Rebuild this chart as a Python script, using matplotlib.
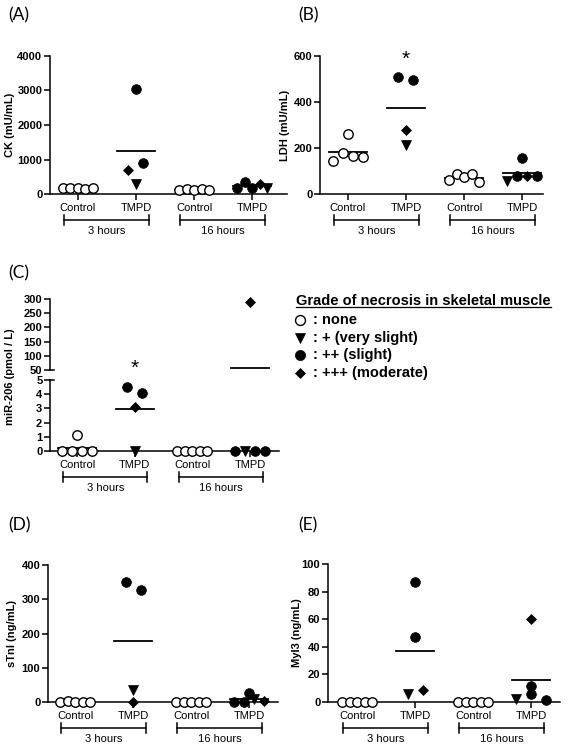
import matplotlib
matplotlib.use("Agg")
import matplotlib.pyplot as plt
import numpy as np
from matplotlib.lines import Line2D

plt.rcParams["font.family"] = ["Liberation Sans", "DejaVu Sans"]

W, H = 572, 752

group_names = ["Control", "TMPD", "Control", "TMPD"]
period_names = ["3 hours", "16 hours"]
grade_names = ["none", "+ (very slight)", "++ (slight)", "+++ (moderate)"]
legend_title = "Grade of necrosis in skeletal muscle"

# necrosis grade per animal: 0 none, 1 +, 2 ++, 3 +++
# (A) CK (mU/mL)
ck = [[160, 170, 165, 150, 160], [3050, 700, 300, 900],
      [120, 140, 130, 135, 125], [170, 350, 180, 280, 180]]
ck_grade = [[0, 0, 0, 0, 0], [2, 3, 1, 2], [0, 0, 0, 0, 0], [2, 2, 2, 3, 1]]

# (B) LDH (mU/mL)
ldh = [[145, 260, 180, 165, 162], [508, 495, 280, 215],
       [60, 88, 72, 85, 52], [58, 156, 80, 80, 80]]
ldh_grade = [[0, 0, 0, 0, 0], [2, 2, 3, 1], [0, 0, 0, 0, 0], [1, 2, 2, 3, 2]]

# (C) miR-206 (pmol / L)
mir = [[1.1, 0, 0, 0, 0], [4.5, 4.1, 3.1, 0],
       [0, 0, 0, 0, 0], [290, 0, 0, 0, 0]]
mir_grade = [[0, 0, 0, 0, 0], [2, 2, 3, 1], [0, 0, 0, 0, 0], [3, 2, 1, 2, 2]]

# (D) sTnI (ng/mL)
stni = [[0, 3, 1, 0, 0], [350, 328, 35, 0],
        [0, 0, 0, 0, 0], [0, 27, 1, 8, 2]]
stni_grade = [[0, 0, 0, 0, 0], [2, 2, 1, 3], [0, 0, 0, 0, 0], [2, 2, 2, 1, 3]]

# (E) Myl3 (ng/mL)
myl3 = [[0, 0, 0, 0, 0], [87, 47, 6, 8.5],
        [0, 0, 0, 0, 0], [60, 2, 5.5, 1.5, 11.5]]
myl3_grade = [[0, 0, 0, 0, 0], [2, 2, 1, 3], [0, 0, 0, 0, 0], [3, 1, 2, 2, 2]]

STYLE = {
    0: dict(marker="o", mfc="white", mec="black", ms=6.8, mew=1.0),
    1: dict(marker="v", mfc="black", mec="black", ms=7.2, mew=0.5),
    2: dict(marker="o", mfc="black", mec="black", ms=7.0, mew=0.5),
    3: dict(marker="D", mfc="black", mec="black", ms=5.2, mew=0.5),
}

fig = plt.figure(figsize=(W / 100, H / 100), dpi=100)


def make_axes(left, top, right, bottom):
    ax = fig.add_axes([left / W, 1 - bottom / H, (right - left) / W, (bottom - top) / H])
    for s in ("top", "right"):
        ax.spines[s].set_visible(False)
    for s in ("left", "bottom"):
        ax.spines[s].set_linewidth(1.1)
    ax.tick_params(axis="y", direction="out", length=4, width=1.1, pad=1.5, labelsize=8)
    ax.tick_params(axis="x", direction="out", length=4, width=1.1, pad=2.5, labelsize=8)
    return ax


def bold_yticks(ax):
    for lab in ax.get_yticklabels():
        lab.set_fontweight("bold")


def swarm(ax, vals, near=9.0, sp_max=15.0, width_max=30.0):
    # group points that sit close together vertically and spread each group sideways
    ys = ax.transData.transform(np.column_stack([np.zeros(len(vals)), vals]))[:, 1]
    unit = ax.transData.transform([(1, 0)])[0, 0] - ax.transData.transform([(0, 0)])[0, 0]
    order = np.argsort(ys, kind="stable")
    bins, cur, start = [], [], None
    for i in order:
        if cur and ys[i] - start > near:
            bins.append(cur)
            cur = []
        if not cur:
            start = ys[i]
        cur.append(i)
    bins.append(cur)
    offs = np.zeros(len(vals))
    for b in bins:
        b = sorted(b)
        n = len(b)
        if n == 1:
            continue
        sp = min(sp_max, width_max / (n - 1))
        for j, i in enumerate(b):
            offs[i] = (j - (n - 1) / 2) * sp
    return offs / unit


def draw_points(ax, xc, vals, grades):
    offs = swarm(ax, vals)
    for o, v, g in zip(offs, vals, grades):
        ax.plot([xc + o], [v], linestyle="none", clip_on=False, zorder=4, **STYLE[g])


def mean_line(ax, xc, m):
    ax.plot([xc - 0.33, xc + 0.33], [m, m], color="black", lw=1.3, zorder=3, clip_on=False)


def x_axis(ax, hpx):
    ax.set_xticks(range(4))
    ax.set_xticklabels(group_names)
    tr = ax.get_xaxis_transform()
    yb, cap, yt = -26 / hpx, 5 / hpx, -37 / hpx
    for i, name in enumerate(period_names):
        x0, x1 = 2 * i - 0.24, 2 * i + 1.22
        ax.plot([x0, x1], [yb, yb], color="black", lw=1.1, transform=tr, clip_on=False)
        for xx in (x0, x1):
            ax.plot([xx, xx], [yb - cap, yb + cap], color="black", lw=1.1,
                    transform=tr, clip_on=False)
        ax.text((x0 + x1) / 2, yt, name, transform=tr, ha="center", va="center", fontsize=8)


def panel(box, xlim, ylim, yticks, vals, grades, ylabel, label_dist):
    ax = make_axes(*box)
    ax.set_xlim(*xlim)
    ax.set_ylim(*ylim)
    ax.set_yticks(yticks)
    bold_yticks(ax)
    hpx = box[3] - box[1]
    wpx = box[2] - box[0]
    x_axis(ax, hpx)
    for i in range(4):
        mean_line(ax, i, np.mean(vals[i]))
        draw_points(ax, i, vals[i], grades[i])
    ax.text(-label_dist / wpx, 0.5, ylabel, rotation=90, transform=ax.transAxes,
            ha="center", va="center", fontsize=8, fontweight="bold")
    return ax


def panel_letter(x, y, s):
    fig.text(x / W, 1 - y / H, s, ha="left", va="center", fontsize=12.5, family="Lato")


# (A)
axA = panel((50, 56, 287, 194), (-0.48, 3.6), (0, 4000), np.arange(0, 4001, 1000),
            ck, ck_grade, "CK (mU/mL)", 40)
panel_letter(8, 15, "(A)")

# (B)
axB = panel((320, 56, 543, 194), (-0.48, 3.36), (0, 600), np.arange(0, 601, 200),
            ldh, ldh_grade, "LDH (mU/mL)", 35)
axB.text(1, 561, "*", ha="center", va="baseline", fontsize=15, clip_on=False)
panel_letter(298, 15, "(B)")

# (C) broken axis
cx = (-0.47, 3.5)
axCu = make_axes(50, 299, 279, 370)
axCu.spines["bottom"].set_visible(False)
axCu.set_xlim(*cx)
axCu.set_ylim(50, 300)
axCu.set_yticks(np.arange(50, 301, 50))
axCu.set_xticks([])
axCl = make_axes(50, 380, 279, 451)
axCl.set_xlim(*cx)
axCl.set_ylim(0, 5)
axCl.set_yticks(np.arange(0, 6, 1))
bold_yticks(axCu)
bold_yticks(axCl)
x_axis(axCl, 71)
axCu.plot([0, 4 / 229], [0, 0], color="black", lw=1.1, transform=axCu.transAxes, clip_on=False)
axCl.plot([0, 4 / 229], [1, 1], color="black", lw=1.1, transform=axCl.transAxes, clip_on=False)
for i in range(4):
    v = np.array(mir[i])
    g = np.array(mir_grade[i])
    m = v.mean()
    mean_line(axCu if m >= 50 else axCl, i, m)
    hi = v >= 50
    if hi.any():
        draw_points(axCu, i, v[hi], g[hi])
    draw_points(axCl, i, v[~hi], g[~hi])
axCu.text(1, 36, "*", ha="center", va="baseline", fontsize=15, clip_on=False)
fig.text(10 / W, 1 - 377 / H, "miR-206 (pmol / L)", rotation=90, ha="center", va="center",
         fontsize=8, fontweight="bold")
panel_letter(8, 273, "(C)")

# legend
tx, ty = 296, 305
t = fig.text(tx / W, 1 - ty / H, legend_title, ha="left", va="baseline",
             fontsize=10.5, fontweight="bold")
fig.canvas.draw()
bb = t.get_window_extent()
fig.add_artist(Line2D([bb.x0 / W, bb.x1 / W], [1 - (ty + 2) / H] * 2, color="black", lw=0.9))
for k, name in enumerate(grade_names):
    yb = ty + 19 + 17.7 * k
    st = dict(STYLE[k])
    st["ms"] = st["ms"] * 1.05
    fig.add_artist(Line2D([300 / W], [1 - (yb - 4) / H], linestyle="none",
                          transform=fig.transFigure, **st))
    fig.text(313 / W, 1 - yb / H, ": " + name, ha="left", va="baseline",
             fontsize=10.5, fontweight="bold")

# (D)
panel((48, 565, 278, 702), (-0.47, 3.5), (0, 400), np.arange(0, 401, 100),
      stni, stni_grade, "sTnI (ng/mL)", 36)
panel_letter(8, 525, "(D)")

# (E)
panel((328, 564, 560, 702), (-0.5, 3.5), (0, 100), np.arange(0, 101, 20),
      myl3, myl3_grade, "Myl3 (ng/mL)", 31)
panel_letter(298, 525, "(E)")

fig.savefig("out.png", dpi=100)
